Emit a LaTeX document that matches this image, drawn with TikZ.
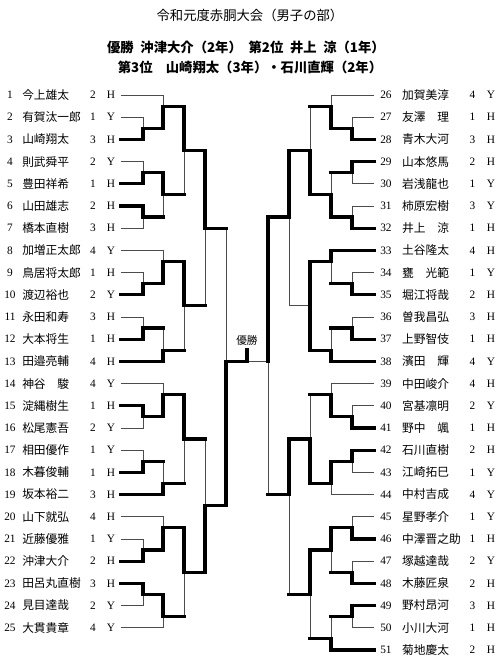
\documentclass[tikz,border=0pt]{standalone}
\usepackage{fontspec}
\setmainfont{Liberation Serif}
\newfontfamily\jp{Noto Sans CJK JP}
\usetikzlibrary{positioning}

\begin{document}
\begin{tikzpicture}[x=0.75pt, y=-16.65pt,
  num/.style={font=\fontsize{8.5}{10}\selectfont, inner sep=0pt},
  nm/.style={font=\jp\fontsize{8.8}{10}\selectfont, inner sep=0pt, anchor=west},
  head/.style={font=\jp\fontsize{10}{12}\selectfont, inner sep=0pt},
  headb/.style={font=\jp\bfseries\fontsize{10}{12}\selectfont, inner sep=0pt},
  won/.style={line width=2.4pt, line cap=rect},
  lost/.style={line width=0.6pt, black!70}]
\useasboundingbox (0,-3.28) rectangle (500,26.59);

% title
\node[head] (title) at (250,-2.6) {令和元度赤胴大会（男子の部）};
\node[headb] (first) at (246,-1.16) {優勝\enspace 沖津大介（2年）\enspace 第2位\enspace 井上\enspace 涼（1年）};
\node[headb] (third) at (250,-0.26) {第3位　山崎翔太（3年）・石川直輝（2年）};

% left block
\foreach \i/\s/\g/\h in {1/今上雄太/2/H, 2/有賀汰一郎/1/Y, 3/山崎翔太/3/H, 4/則武舜平/2/Y,
  5/豊田祥希/1/H, 6/山田雄志/2/H, 7/橋本直樹/3/H, 8/加増正太郎/4/Y, 9/鳥居将太郎/1/H,
  10/渡辺裕也/2/Y, 11/永田和寿/3/H, 12/大本将生/1/H, 13/田邉亮輔/4/H, 14/神谷　駿/4/Y,
  15/淀縄樹生/1/H, 16/松尾憲吾/2/Y, 17/相田優作/1/Y, 18/木暮俊輔/1/H, 19/坂本裕二/3/H,
  20/山下就弘/4/H, 21/近藤優雅/1/Y, 22/沖津大介/2/H, 23/田呂丸直樹/3/H, 24/見目達哉/2/Y,
  25/大貫貴章/4/Y} {
  \node[num] (n\i) at (10,\i) {\i};
  \node[nm] (s\i) at (22,\i) {\s};
  \node[num] (g\i) at (93,\i) {\g};
  \node[num] (h\i) at (111,\i) {\h};
  \coordinate (p\i) at (121,\i);
}

% right block
\foreach \i/\s/\g/\h [count=\k] in {26/加賀美淳/4/Y, 27/友澤　理/1/H, 28/青木大河/3/H,
  29/山本悠馬/2/H, 30/岩浅龍也/1/Y, 31/柿原宏樹/3/Y, 32/井上　涼/1/H, 33/土谷隆太/4/H,
  34/甕　光範/1/Y, 35/堀江将哉/2/H, 36/曽我昌弘/3/H, 37/上野智伎/1/H, 38/濱田　輝/4/Y,
  39/中田峻介/4/H, 40/宮基凛明/2/Y, 41/野中　颯/1/H, 42/石川直樹/2/H, 43/江崎拓巳/1/Y,
  44/中村吉成/4/Y, 45/星野孝介/1/Y, 46/中澤晋之助/1/H, 47/塚越達哉/2/Y, 48/木藤匠泉/2/H,
  49/野村昂河/3/H, 50/小川大河/1/H, 51/菊地慶太/2/H} {
  \node[num] (n\i) at (386,\k) {\i};
  \node[nm] (s\i) at (402,\k) {\s};
  \node[num] (g\i) at (472.5,\k) {\g};
  \node[num] (h\i) at (491,\k) {\h};
  \coordinate (p\i) at (374,\k);
}

% bouts: column / row of the join
\foreach \m/\x/\y in {a23/143/2.5, a123/163/1.5, a45/143/4.5, a67/143/6.5, a47/163/5.5,
  a17/184/3.5, a910/143/9.5, a810/163/8.5, a1112/143/11.5, a1113/163/12.5, a813/184/10.5,
  a113/205/7, a1516/143/15.5, a1416/163/14.5, a1718/143/17.5, a1719/163/18.5,
  a1419/184/16.5, a2122/143/21.5, a2022/163/20.5, a2324/143/23.5, a2325/163/24.5,
  a2025/184/22.5, a1425/205/19.5, aS/226/13,
  b2728/352/2.5, b2628/331/1.5, b2930/352/4.5, b3132/352/6.5, b2932/331/5.5,
  b2632/310/3.5, b3435/352/9.5, b3335/331/8.5, b3637/352/11.5, b3638/331/12.5,
  b3338/310/10.5, b2638/289/6.5, b4041/352/15.5, b3941/331/14.5, b4243/352/17.5,
  b4244/331/18.5, b3944/310/16.5, b4546/352/20.5, b4748/352/22.5, b4548/331/21.5,
  b4950/352/24.5, b4951/331/25.5, b4551/310/23.5, b3951/289/19, bS/268/13,
  champ/247/12.45}
  \coordinate (\m) at (\x,\y);

% lost in the first bout
\foreach \l/\m in {p2/a23, p1/a123, p4/a45, p7/a67, p9/a910, p8/a810, p11/a1112,
  p16/a1516, p14/a1416, p17/a1718, p21/a2122, p20/a2022, p24/a2324, p25/a2325,
  p27/b2728, p26/b2628, p30/b2930, p31/b3132, p34/b3435, p36/b3637, p40/b4041,
  p39/b3941, p43/b4243, p44/b4244, p45/b4546, p47/b4748, p50/b4950,
  b3338/b2638, bS/champ}
  \draw[lost] (\l) -| (\m);

% lost after a win
\def\beaten{a67/a47, a47/a17, a1112/a1113, a1113/a813, a813/a113, a1718/a1719,
  a1719/a1419, a2325/a2025, a1419/a1425, a113/aS, b2930/b2932, b2628/b2632,
  b3435/b3335, b3637/b3638, b3941/b3944, b4748/b4548, b4950/b4951, b4951/b4551,
  b4551/b3951, b3951/bS}
\foreach \l/\m in \beaten \draw[lost] (\l -| \m) -- (\m);
\foreach \l/\m in \beaten \draw[won] (\l) -- (\l -| \m);

% winners
\foreach \w/\m in {p3/a23, a23/a123, p5/a45, p6/a67, a45/a47, a123/a17, p10/a910,
  a910/a810, p12/a1112, p13/a1113, a810/a813, a17/a113, p15/a1516, a1516/a1416,
  p18/a1718, p19/a1719, a1416/a1419, p22/a2122, a2122/a2022, p23/a2324, a2324/a2325,
  a2022/a2025, a2025/a1425, a1425/aS, aS/champ,
  p28/b2728, b2728/b2628, p29/b2930, p32/b3132, b3132/b2932, b2932/b2632, b2632/b2638,
  b2638/bS, p35/b3435, p33/b3335, p37/b3637, p38/b3638, b3335/b3338, b3638/b3338,
  p41/b4041, b4041/b3941, p42/b4243, b4243/b4244, b4244/b3944, b3944/b3951,
  p46/b4546, p48/b4748, b4546/b4548, p49/b4950, p51/b4951, b4548/b4551}
  \draw[won] (\w) -| (\m);

\node[font=\jp\fontsize{8}{9}\selectfont, inner sep=0pt, above=2.5pt of champ] (yusho) {優勝};
\end{tikzpicture}
\end{document}
